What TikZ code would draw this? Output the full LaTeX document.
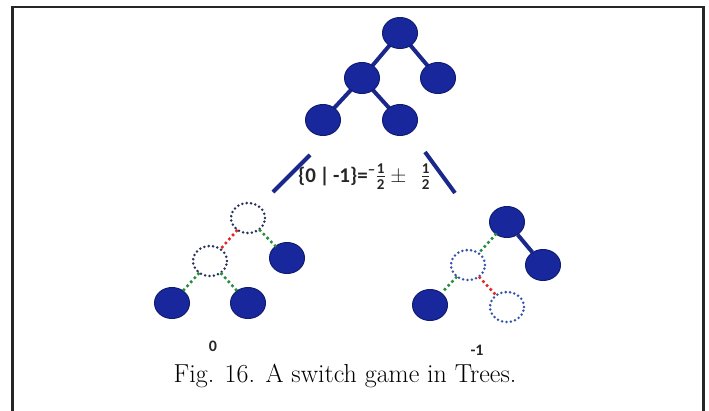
\documentclass[tikz,border=0pt]{standalone}
\usepackage{fontspec}
\usepackage{amsmath}
\usetikzlibrary{shapes.geometric}
\newfontfamily\labelsans{Carlito}
\definecolor{nodefill}{RGB}{24,40,156}
\definecolor{nodeline}{RGB}{16,28,112}
\definecolor{branch}{RGB}{26,40,140}
\definecolor{ringdark}{RGB}{40,48,92}
\definecolor{ringblue}{RGB}{52,82,172}
\definecolor{movegreen}{RGB}{40,140,64}
\definecolor{movered}{RGB}{226,40,40}
\newcommand{\fracdigit}[1]{\text{\labelsans\bfseries\fontsize{15}{15}\selectfont #1}}
\tikzset{
  full/.style={shape=ellipse, minimum width=35pt, minimum height=31pt, inner sep=0pt,
    fill=nodefill, draw=nodeline, line width=1pt},
  ring/.style={shape=ellipse, minimum width=34pt, minimum height=30pt, inner sep=0pt,
    fill=white, draw=#1, line width=2.8pt, line cap=round, dash pattern=on 0pt off 4.4pt},
  solidedge/.style={draw=branch, line width=4pt},
  dotedge/.style={draw=#1, line width=3.6pt, line cap=round, dash pattern=on 0pt off 5.4pt},
  valuefont/.style={font=\labelsans\bfseries\fontsize{16}{18}\selectfont, text=black!85, inner sep=0pt},
}
\begin{document}
\begin{tikzpicture}[x=1pt, y=-1pt]
\useasboundingbox (0,0) rectangle (709,410);

% frame, open at the bottom
\draw[line width=2.2pt, black!85] (12.5,420) -- (12.5,7) -- (703.5,7) -- (703.5,420);

% ---- upper tree ----
\draw[solidedge] (400,33) -- (362,78) -- (323,120);
\draw[solidedge] (362,78) -- (400,120);
\draw[solidedge] (400,33) -- (438,78);
\node[full] (r)   at (400,33)  {};
\node[full] (rl)  at (362,78)  {};
\node[full] (rr)  at (438,78)  {};
\node[full] (rll) at (323,120) {};
\node[full] (rlr) at (400,120) {};

% split strokes and value
\coordinate (sl1) at (310,155);
\coordinate (sl2) at (273,192);
\coordinate (sr1) at (425,152);
\coordinate (sr2) at (455,193);
\draw[solidedge] (sl1) -- (sl2);
\draw[solidedge] (sr1) -- (sr2);
\node[anchor=base west, inner sep=0pt, text=black!85,
      font=\labelsans\bfseries\fontsize{21}{22}\selectfont]
  (val) at (298,182) {\{0\,|\,-1\}=$^{\fracdigit{\textendash}}\frac{\fracdigit{1}}{\fracdigit{2}}\pm\ \ \frac{\fracdigit{1}}{\fracdigit{2}}$};

% ---- left tree: value 0 ----
\node[ring=ringdark] (a)  at (248,218) {};
\node[ring=ringdark] (b)  at (210,261) {};
\node[full]          (c)  at (287,258) {};
\node[full]          (d)  at (172,303) {};
\node[full]          (e)  at (248,303) {};
\draw[dotedge=movered]   (a) -- (b);
\draw[dotedge=movegreen] (a) -- (c);
\draw[dotedge=movegreen] (b) -- (d);
\draw[dotedge=movegreen] (b) -- (e);
\node[valuefont] (v0) at (213,346) {0};

% ---- right tree: value -1 ----
\node[full]          (f)  at (507,222) {};
\node[full]          (g)  at (543,265) {};
\node[ring=ringblue] (h)  at (468,265) {};
\node[full]          (i)  at (430,305) {};
\node[ring=ringblue] (j)  at (507,307) {};
\draw[solidedge] (f) -- (g);
\draw[dotedge=movegreen] (f) -- (h);
\draw[dotedge=movegreen] (h) -- (i);
\draw[dotedge=movered]   (h) -- (j);
\node[valuefont] (v1) at (477,350) {-1};

% caption
\node[anchor=base, inner sep=0pt, font=\fontsize{26}{30}\selectfont] (cap) at (345,382)
  {Fig. 16. A switch game in Trees.};
\end{tikzpicture}
\end{document}
